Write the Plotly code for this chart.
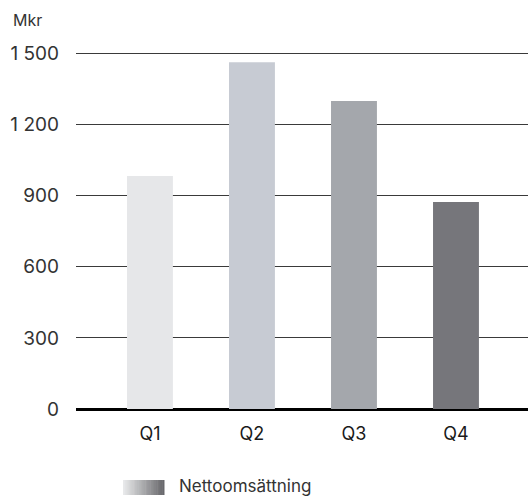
import plotly.graph_objects as go

categories = ["Q1", "Q2", "Q3", "Q4"]
values = [983, 1463, 1299, 873]
bar_colors = ["#e6e7e9", "#c7cbd3", "#a4a7ac", "#76767b"]
y_ticks = [0, 300, 600, 900, 1200, 1500]
y_ticktext = ["0", "300", "600", "900", "1 200", "1 500"]
unit_label = "Mkr"
legend_label = "Nettoomsättning"

FONT = "Inter, Roboto, sans-serif"

fig = go.Figure()
fig.add_trace(go.Bar(
    x=categories, y=values, marker=dict(color=bar_colors, line=dict(width=0)),
    width=0.45, showlegend=False, hoverinfo="skip",
))

W, H = 528, 497
L, R, T, B = 76, 0, 51, 88
pw, ph = W - L - R, H - T - B

def px_x(x):
    return (x - L) / pw

def px_y(y):
    return (H - B - y) / ph

shapes = []
# gradient legend swatch
n = 24
x0, x1 = 123, 164
c0 = (232, 233, 234)
c1 = (104, 104, 108)
for i in range(n):
    t = i / (n - 1)
    c = tuple(int(round(c0[k] + (c1[k] - c0[k]) * t)) for k in range(3))
    xa = x0 + (x1 - x0) * i / n
    xb = x0 + (x1 - x0) * (i + 1) / n + 0.5
    shapes.append(dict(type="rect", xref="paper", yref="paper",
                       x0=px_x(xa), x1=px_x(xb), y0=px_y(495), y1=px_y(480),
                       fillcolor="rgb(%d,%d,%d)" % c, line=dict(width=0), layer="above"))

fig.update_layout(
    width=W, height=H,
    margin=dict(l=L, r=R, t=T, b=B),
    paper_bgcolor="white", plot_bgcolor="white",
    font=dict(family=FONT, color="#222222"),
    shapes=shapes,
    annotations=[
        dict(text=unit_label, xref="paper", yref="paper", x=px_x(11), y=px_y(20),
             xanchor="left", yanchor="middle", showarrow=False,
             font=dict(size=16, color="#333333", family=FONT)),
        dict(text=legend_label, xref="paper", yref="paper", x=px_x(177), y=px_y(486),
             xanchor="left", yanchor="middle", showarrow=False,
             font=dict(size=17, color="#333333", family=FONT)),
    ],
    xaxis=dict(
        type="category", range=[-0.725, 3.706], showgrid=False, zeroline=False,
        showline=False, ticks="", ticklabelstandoff=12,
        tickfont=dict(size=18, color="#1a1a1a", family=FONT),
        fixedrange=True,
    ),
    yaxis=dict(
        range=[0, 1510], tickvals=y_ticks, ticktext=y_ticktext,
        showgrid=True, gridcolor="#3a3a3a", gridwidth=1,
        zeroline=True, zerolinecolor="#000000", zerolinewidth=3,
        showline=False, ticks="", ticklabelstandoff=16,
        tickfont=dict(size=19, color="#333333", family=FONT),
        fixedrange=True,
    ),
)

fig.write_html("out.html", config={"displayModeBar": False},
               post_script="document.body.style.margin='0';document.body.style.overflow='hidden';")
